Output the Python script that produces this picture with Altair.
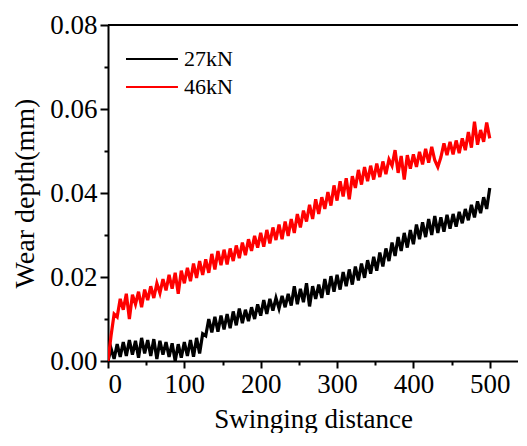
import altair as alt
import pandas as pd

distance = list(range(0, 501, 4))

depth_27kN = [
    0.0000, 0.0030, 0.0005, 0.0040, 0.0010, 0.0045, 0.0012, 0.0050, 0.0015, 0.0048,
    0.0008, 0.0055, 0.0018, 0.0050, 0.0012, 0.0052, 0.0005, 0.0048, 0.0015, 0.0045,
    0.0010, 0.0042, 0.0000, 0.0040, 0.0008, 0.0045, 0.0012, 0.0050, 0.0010, 0.0055,
    0.0018, 0.0065, 0.0060, 0.0100, 0.0068, 0.0105, 0.0070, 0.0108, 0.0075, 0.0112,
    0.0078, 0.0118, 0.0085, 0.0125, 0.0090, 0.0122, 0.0095, 0.0128, 0.0100, 0.0135,
    0.0108, 0.0145, 0.0112, 0.0148, 0.0120, 0.0150, 0.0125, 0.0155, 0.0128, 0.0160,
    0.0132, 0.0178, 0.0135, 0.0172, 0.0140, 0.0185, 0.0130, 0.0178, 0.0148, 0.0182,
    0.0150, 0.0195, 0.0158, 0.0202, 0.0165, 0.0205, 0.0170, 0.0212, 0.0178, 0.0218,
    0.0182, 0.0225, 0.0192, 0.0232, 0.0198, 0.0240, 0.0208, 0.0248, 0.0215, 0.0258,
    0.0225, 0.0268, 0.0238, 0.0282, 0.0250, 0.0295, 0.0262, 0.0305, 0.0270, 0.0312,
    0.0278, 0.0325, 0.0290, 0.0330, 0.0295, 0.0338, 0.0300, 0.0345, 0.0305, 0.0342,
    0.0308, 0.0348, 0.0315, 0.0350, 0.0320, 0.0355, 0.0328, 0.0362, 0.0335, 0.0372,
    0.0342, 0.0380, 0.0352, 0.0390, 0.0362, 0.0412,
]

depth_46kN = [
    0.0000, 0.0060, 0.0112, 0.0105, 0.0148, 0.0122, 0.0160, 0.0100, 0.0158, 0.0135,
    0.0165, 0.0128, 0.0170, 0.0145, 0.0178, 0.0150, 0.0185, 0.0162, 0.0195, 0.0168,
    0.0205, 0.0172, 0.0210, 0.0160, 0.0215, 0.0185, 0.0222, 0.0190, 0.0232, 0.0198,
    0.0238, 0.0205, 0.0242, 0.0210, 0.0255, 0.0218, 0.0262, 0.0228, 0.0265, 0.0230,
    0.0268, 0.0238, 0.0275, 0.0245, 0.0282, 0.0252, 0.0290, 0.0262, 0.0298, 0.0270,
    0.0305, 0.0272, 0.0312, 0.0280, 0.0318, 0.0288, 0.0325, 0.0290, 0.0332, 0.0298,
    0.0338, 0.0305, 0.0350, 0.0318, 0.0358, 0.0332, 0.0372, 0.0338, 0.0385, 0.0350,
    0.0390, 0.0362, 0.0402, 0.0370, 0.0418, 0.0382, 0.0428, 0.0392, 0.0435, 0.0385,
    0.0440, 0.0412, 0.0455, 0.0420, 0.0462, 0.0428, 0.0465, 0.0432, 0.0470, 0.0438,
    0.0475, 0.0445, 0.0480, 0.0465, 0.0502, 0.0448, 0.0488, 0.0432, 0.0490, 0.0458,
    0.0492, 0.0462, 0.0498, 0.0468, 0.0505, 0.0472, 0.0510, 0.0478, 0.0462, 0.0485,
    0.0518, 0.0490, 0.0522, 0.0492, 0.0525, 0.0495, 0.0530, 0.0502, 0.0545, 0.0508,
    0.0570, 0.0515, 0.0550, 0.0522, 0.0568, 0.0530,
]

series_names = ["27kN", "46kN"]
series_colors = ["#000000", "#ff0000"]
x_ticks = [0, 50, 100, 150, 200, 250, 300, 350, 400, 450, 500]
y_ticks = [0.0, 0.01, 0.02, 0.03, 0.04, 0.05, 0.06, 0.07, 0.08]

rows = []
for name, vals in zip(series_names, [depth_27kN, depth_46kN]):
    for d, v in zip(distance, vals):
        rows.append({"distance": d, "depth": v, "load": name})
df = pd.DataFrame(rows)

FONT = "Liberation Serif"
xscale = alt.Scale(domain=[0, 537], nice=False, zero=False)
yscale = alt.Scale(domain=[0, 0.08], nice=False)

x_major_test = "datum.value % 100 == 0"
y_major_test = "round(datum.value * 100) % 2 == 0"

lines = alt.Chart(df).mark_line(strokeWidth=3.2, clip=True).encode(
    x=alt.X("distance:Q", scale=xscale,
            axis=alt.Axis(values=x_ticks, title="Swinging distance", orient="bottom",
                          labelExpr="datum.value % 100 == 0 ? datum.label : ''",
                          tickSize={"condition": {"test": x_major_test, "value": 7}, "value": 4},
                          tickWidth=2, domainWidth=2, domainColor="black",
                          tickColor="black", labelFont=FONT, labelFontSize=27,
                          labelColor="black", labelPadding=3, grid=False,
                          labelOverlap=False,
                          titleFont=FONT, titleFontSize=27, titleFontWeight="normal",
                          titleColor="black", titleBaseline="alphabetic", titleY=66)),
    y=alt.Y("depth:Q", scale=yscale,
            axis=alt.Axis(values=y_ticks, format=".2f", title="Wear depth(mm)", orient="left",
                          labelExpr="round(datum.value * 100) % 2 == 0 ? datum.label : ''",
                          tickSize={"condition": {"test": y_major_test, "value": 8}, "value": 4},
                          tickWidth=2, domainWidth=2, domainColor="black",
                          tickColor="black", labelFont=FONT, labelFontSize=27,
                          labelColor="black", labelPadding=3, grid=False,
                          labelOverlap=False,
                          titleFont=FONT, titleFontSize=28, titleFontWeight="normal",
                          titleColor="black", titlePadding=10)),
    color=alt.Color("load:N", scale=alt.Scale(domain=series_names, range=series_colors),
                    legend=alt.Legend(title=None, orient="none", legendX=17, legendY=21,
                                      symbolType="M-1,0H3.33", symbolSize=576,
                                      symbolStrokeWidth=2, labelFont=FONT,
                                      labelFontSize=22, labelColor="black",
                                      labelOffset=33, rowPadding=4)),
    detail="load:N",
)

top_border = alt.Chart(df).mark_rule(color="black", strokeWidth=2).encode(
    y=alt.datum(0.08)
)

chart = alt.layer(lines, top_border).properties(
    width=410, height=336,
    background="white",
    autosize=alt.AutoSizeParams(type="none"),
    padding={"left": 100, "top": 17, "right": 0, "bottom": 72},
).configure_view(stroke=None)

chart.save("out.html", embed_options={"renderer": "svg", "actions": False})
